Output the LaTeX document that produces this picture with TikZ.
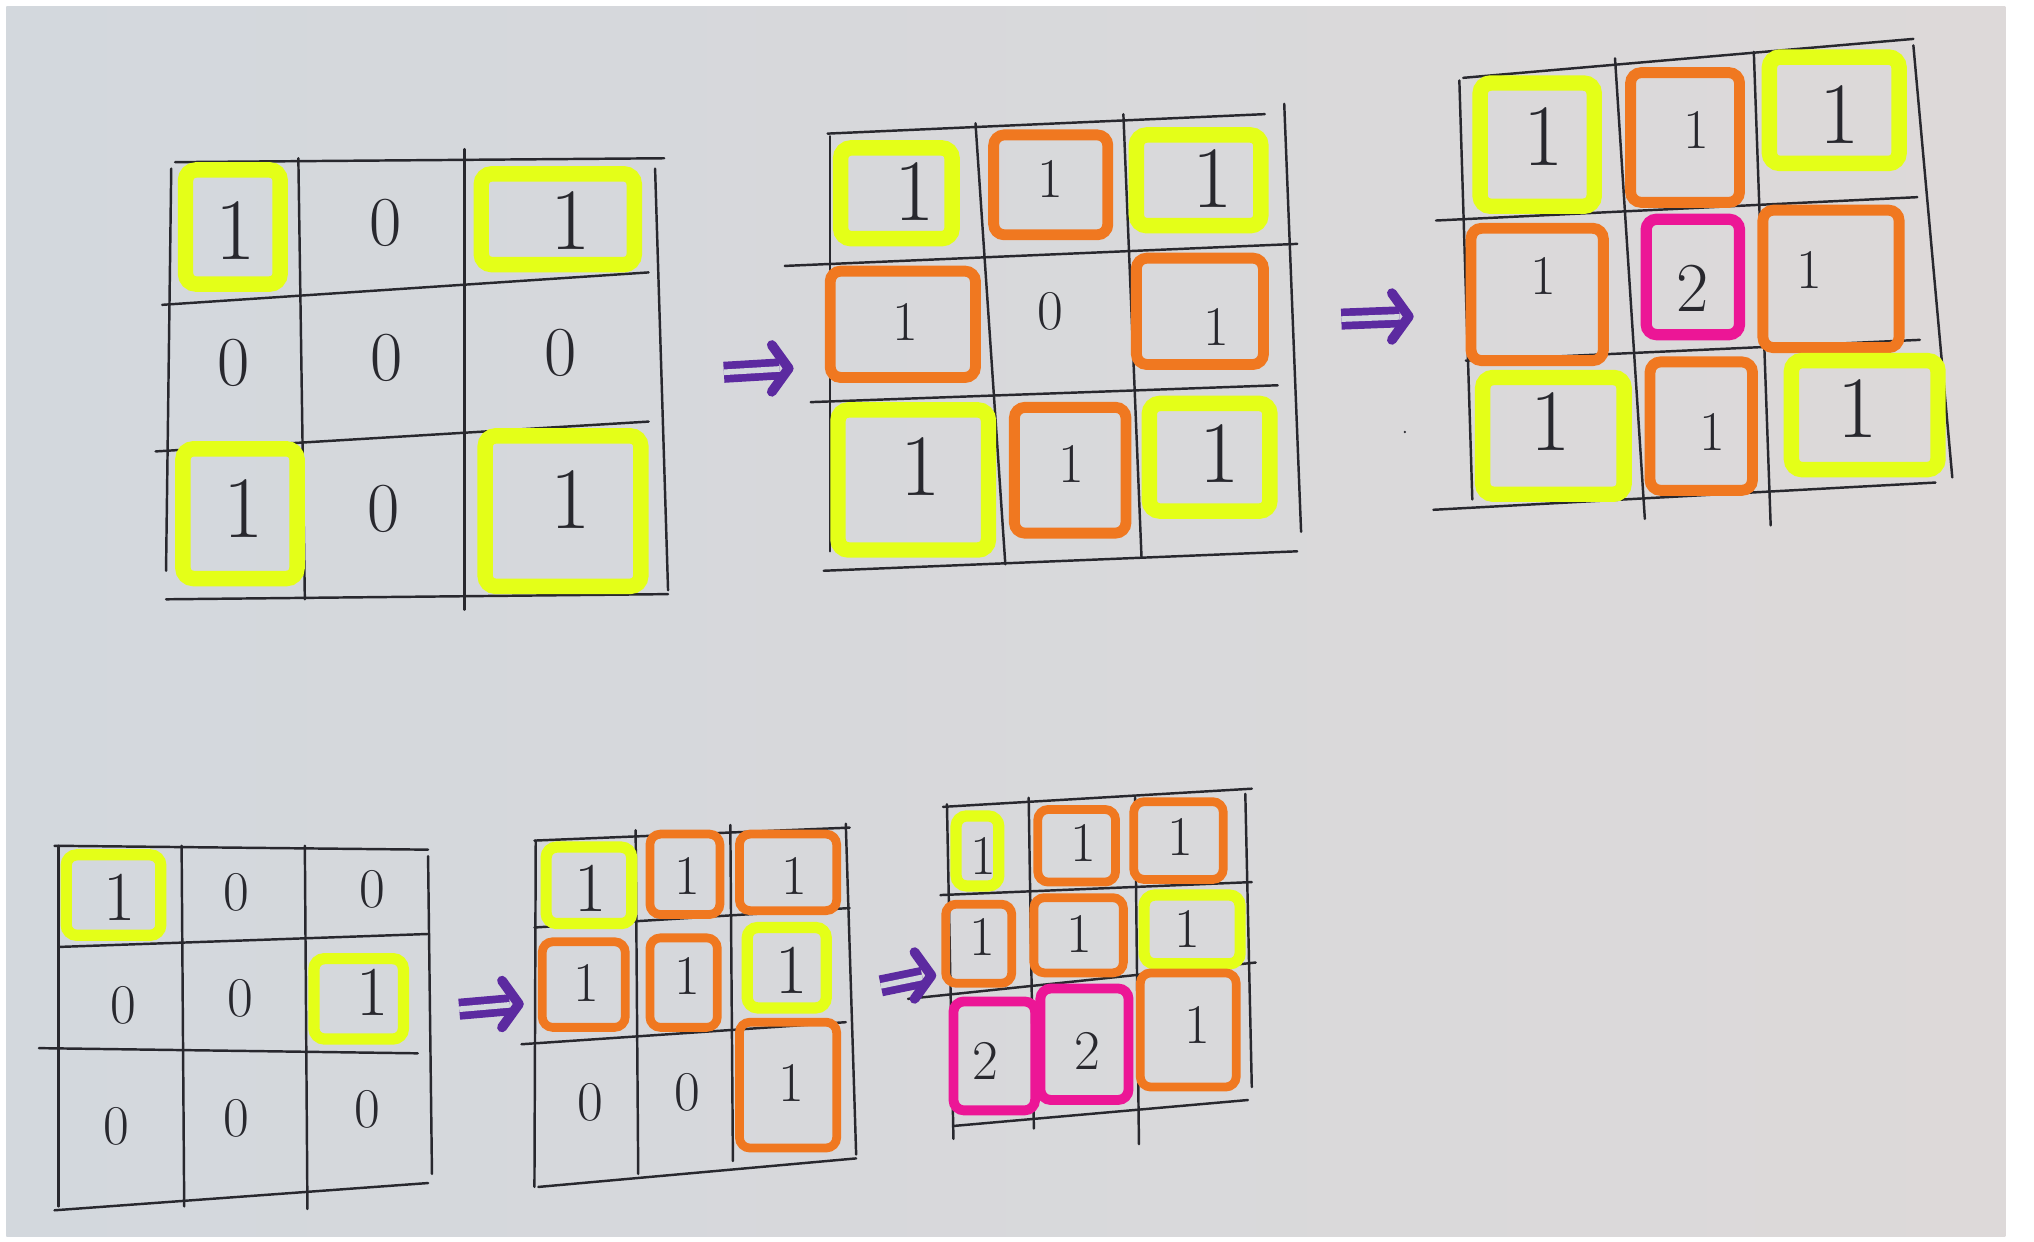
\documentclass[tikz,border=0pt]{standalone}
\usepackage{xcolor}
\usepackage{tikz}
\usetikzlibrary{calc}
\definecolor{paperL}{RGB}{211,216,221}
\definecolor{paperR}{RGB}{221,217,217}
\definecolor{hlyellow}{RGB}{228,255,24}
\definecolor{hlorange}{RGB}{240,120,32}
\definecolor{hlpink}{RGB}{236,22,150}
\definecolor{penpurple}{RGB}{92,42,160}
\definecolor{pencil}{RGB}{40,40,46}

\begin{document}
\begin{tikzpicture}[
    x=0.013cm, y=-0.013cm,
    pen/.style={draw=pencil, line width=0.7pt, line cap=round},
    yel/.style={draw=hlyellow, line width=4.4pt, rounded corners=3pt},
    org/.style={draw=hlorange, line width=3.1pt, rounded corners=3pt},
    pnk/.style={draw=hlpink, line width=3.2pt, rounded corners=3pt},
    yelsm/.style={yel, line width=3.2pt},
    orgsm/.style={org, line width=2.5pt},
    pnksm/.style={pnk, line width=2.8pt},
    numL/.style={font=\fontsize{25}{25}\selectfont, text=pencil, inner sep=0pt},
    numM/.style={font=\fontsize{20}{20}\selectfont, text=pencil, inner sep=0pt},
    numS/.style={font=\fontsize{16}{16}\selectfont, text=pencil, inner sep=0pt},
    goes/.style={draw=penpurple, line width=2.2pt, double=paperL, double distance=1.6pt, shorten >=2.6pt},
    goeshead/.style={draw=penpurple, line width=2.8pt, line cap=round, line join=round}
]

% paper
\fill[white] (0,0) rectangle (1568,957);
\shade[left color=paperL, right color=paperR] (5,5) rectangle (1546,953);
\useasboundingbox (0,0) rectangle (1568,957);

% ---- step 1 (top left)
\draw[pen] (135,125) -- (512,122);
\draw[pen] (125,235) -- (500,210);
\draw[pen] (120,348) -- (500,325);
\draw[pen] (128,462) -- (515,458);
\draw[pen] (132,130) -- (128,440);
\draw[pen] (230,122) -- (235,462);
\draw[pen] (358,115) -- (358,470);
\draw[pen] (505,130) -- (515,455);
\draw[yel] (143,131) rectangle (216,219);
\draw[yel] (371,134) rectangle (489,204);
\draw[yel] (141,346) rectangle (229,446);
\draw[yel] (374,336) rectangle (494,452);
\node[numL] (a11) at (182,178) {1};
\node[numM] (a12) at (297,172) {0};
\node[numL] (a13) at (440,170) {1};
\node[numM] (a21) at (180,280) {0};
\node[numM] (a22) at (298,276) {0};
\node[numM] (a23) at (432,272) {0};
\node[numL] (a31) at (188,392) {1};
\node[numM] (a32) at (296,392) {0};
\node[numL] (a33) at (440,385) {1};

% ---- step 2
\draw[pen] (638,103) -- (975,88);
\draw[pen] (605,205) -- (1000,188);
\draw[pen] (625,310) -- (985,297);
\draw[pen] (635,440) -- (1000,425);
\draw[pen] (640,105) -- (640,425);
\draw[pen] (752,95) -- (775,435);
\draw[pen] (866,88) -- (880,430);
\draw[pen] (990,80) -- (1003,410);
\draw[yel] (648,114) rectangle (734,184);
\draw[org] (766,104) rectangle (854,181);
\draw[yel] (876,104) rectangle (972,174);
\draw[org] (640,209) rectangle (752,291);
\draw[org] (876,199) rectangle (974,281);
\draw[yel] (646,316) rectangle (762,424);
\draw[org] (782,314) rectangle (868,411);
\draw[yel] (886,311) rectangle (979,394);
\node[numL] (b11) at (705,148) {1};
\node[numS] (b12) at (810,138) {1};
\node[numL] (b13) at (935,138) {1};
\node[numS] (b21) at (698,248) {1};
\node[numS] (b22) at (810,240) {0};
\node[numS] (b23) at (938,252) {1};
\node[numL] (b31) at (710,360) {1};
\node[numS] (b32) at (826,358) {1};
\node[numL] (b33) at (940,350) {1};

% ---- step 3
\draw[pen] (1128,60) -- (1475,30);
\draw[pen] (1107,170) -- (1478,152);
\draw[pen] (1130,278) -- (1480,262);
\draw[pen] (1105,393) -- (1492,372);
\draw[pen] (1125,62) -- (1135,385);
\draw[pen] (1245,45) -- (1268,400);
\draw[pen] (1352,40) -- (1365,405);
\draw[pen] (1475,35) -- (1505,368);
\draw[yel] (1141,64) rectangle (1229,159);
\draw[org] (1257,56) rectangle (1341,156);
\draw[yel] (1364,44) rectangle (1464,126);
\draw[org] (1134,176) rectangle (1236,278);
\draw[pnk] (1269,169) rectangle (1341,258);
\draw[org] (1359,162) rectangle (1464,268);
\draw[yel] (1143,291) rectangle (1252,381);
\draw[org] (1272,279) rectangle (1351,378);
\draw[yel] (1381,278) rectangle (1494,362);
\node[numL] (c11) at (1190,105) {1};
\node[numS] (c12) at (1308,100) {1};
\node[numL] (c13) at (1418,88) {1};
\node[numS] (c21) at (1190,213) {1};
\node[numM] (c22) at (1305,222) {2};
\node[numS] (c23) at (1395,208) {1};
\node[numL] (c31) at (1195,325) {1};
\node[numS] (c32) at (1320,333) {1};
\node[numL] (c33) at (1432,315) {1};
\fill[pencil] (1083,333) circle (1);

% ---- step 4 (bottom left)
\draw[pen] (42,652) -- (330,655);
\draw[pen] (45,730) -- (330,720);
\draw[pen] (30,808) -- (322,812);
\draw[pen] (42,933) -- (330,912);
\draw[pen] (45,652) -- (45,930);
\draw[pen] (140,652) -- (142,930);
\draw[pen] (235,652) -- (237,932);
\draw[pen] (330,660) -- (333,905);
\draw[yelsm] (51,659) rectangle (124,721);
\draw[yelsm] (242,739) rectangle (311,801);
\node[numM] (d11) at (92,692) {1};
\node[numS] (d12) at (182,688) {0};
\node[numS] (d13) at (287,686) {0};
\node[numS] (d21) at (95,775) {0};
\node[numS] (d22) at (185,770) {0};
\node[numM] (d23) at (287,765) {1};
\node[numS] (d31) at (90,868) {0};
\node[numS] (d32) at (182,862) {0};
\node[numS] (d33) at (283,855) {0};

% ---- step 5
\draw[pen] (412,648) -- (655,638);
\draw[pen] (412,715) -- (655,700);
\draw[pen] (402,805) -- (652,788);
\draw[pen] (415,915) -- (660,893);
\draw[pen] (413,648) -- (412,915);
\draw[pen] (490,640) -- (492,905);
\draw[pen] (563,636) -- (565,895);
\draw[pen] (652,635) -- (660,890);
\draw[yelsm] (421,653) rectangle (487,712);
\draw[orgsm] (501,643) rectangle (555,705);
\draw[orgsm] (570,643) rectangle (645,702);
\draw[orgsm] (418,726) rectangle (482,792);
\draw[orgsm] (501,723) rectangle (553,792);
\draw[yelsm] (576,715) rectangle (637,777);
\draw[orgsm] (570,788) rectangle (645,885);
\node[numM] (e11) at (455,685) {1};
\node[numS] (e12) at (530,675) {1};
\node[numS] (e13) at (612,675) {1};
\node[numS] (e21) at (452,758) {1};
\node[numS] (e22) at (530,752) {1};
\node[numM] (e23) at (610,748) {1};
\node[numS] (e31) at (455,850) {0};
\node[numS] (e32) at (530,842) {0};
\node[numS] (e33) at (610,835) {1};

% ---- step 6
\draw[pen] (727,622) -- (965,608);
\draw[pen] (725,690) -- (965,680);
\draw[pen] (700,770) -- (968,742);
\draw[pen] (735,868) -- (962,848);
\draw[pen] (730,620) -- (735,878);
\draw[pen] (793,615) -- (797,870);
\draw[pen] (875,615) -- (878,882);
\draw[pen] (960,612) -- (965,838);
\draw[yelsm] (737,629) rectangle (770,683);
\draw[orgsm] (800,624) rectangle (860,680);
\draw[orgsm] (874,618) rectangle (943,678);
\draw[orgsm] (729,697) rectangle (780,758);
\draw[orgsm] (797,692) rectangle (866,750);
\draw[yelsm] (882,690) rectangle (956,743);
\draw[pnksm] (735,772) rectangle (798,856);
\draw[pnksm] (802,762) rectangle (870,848);
\draw[orgsm] (879,750) rectangle (953,838);
\node[numS] (f11) at (758,660) {1};
\node[numS] (f12) at (835,650) {1};
\node[numS] (f13) at (910,645) {1};
\node[numS] (f21) at (757,722) {1};
\node[numS] (f22) at (832,720) {1};
\node[numS] (f23) at (915,716) {1};
\node[numS] (f31) at (760,818) {2};
\node[numS] (f32) at (838,810) {2};
\node[numS] (f33) at (923,790) {1};

% arrows between steps
\coordinate (go1s) at (558,287);  \coordinate (go1e) at (608,284);
\coordinate (go2s) at (1034,246); \coordinate (go2e) at (1086,244);
\coordinate (go3s) at (354,778);  \coordinate (go3e) at (400,774);
\coordinate (go4s) at (679,760);  \coordinate (go4e) at (718,752);
\foreach \g in {go1,go2,go3,go4} {
  \draw[goes] (\g s) -- (\g e);
  \draw[goeshead] ($(\g e)+(-13,-18)$) -- (\g e) -- ($(\g e)+(-13,18)$);
}

\end{tikzpicture}
\end{document}
